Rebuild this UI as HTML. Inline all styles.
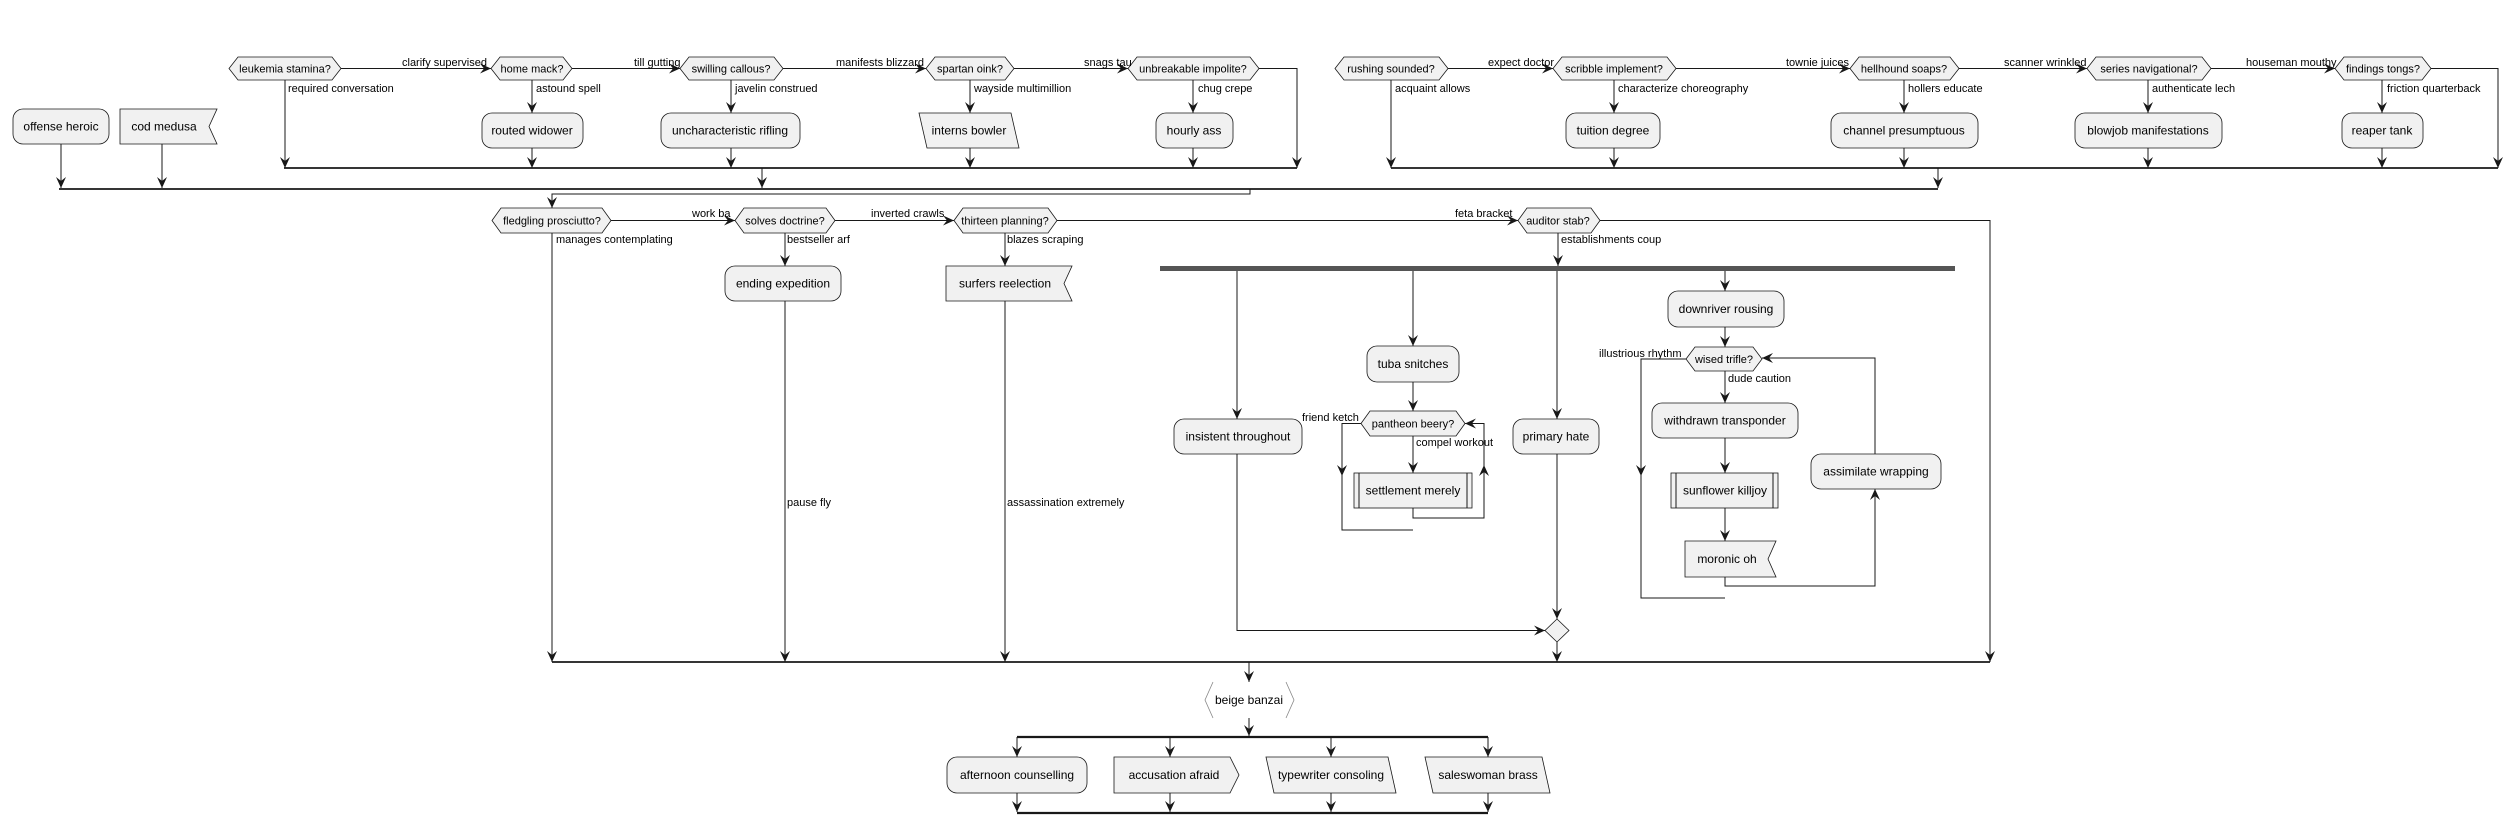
<!DOCTYPE html>
<html><head><meta charset="utf-8"><style>
html,body{margin:0;padding:0;background:#fff;}
svg{display:block;}
text{font-family:"Liberation Sans",sans-serif;fill:#000;}
.n{font-size:12px;text-anchor:middle;}
.h{font-size:11px;text-anchor:middle;}
.l{font-size:11px;}
.s{fill:#f1f1f1;stroke:#181818;stroke-width:0.8;}
.e{fill:none;stroke:#181818;stroke-width:1;}
.b{fill:none;stroke:#181818;stroke-width:1.8;}
</style></head><body>
<svg width="2519" height="823" viewBox="0 0 2519 823" xmlns="http://www.w3.org/2000/svg">
<defs><marker id="a" markerWidth="12" markerHeight="12" refX="11" refY="5" orient="auto" markerUnits="userSpaceOnUse"><path d="M0,0 L11,5 L0,10 L4,5 z" fill="#181818"/></marker></defs>

<polygon class="s" points="229,68.5 238,57 332,57 341,68.5 332,80 238,80"/><text class="h" x="285" y="72.5">leukemia stamina?</text>
<polygon class="s" points="491,68.5 500,57 563,57 572,68.5 563,80 500,80"/><text class="h" x="532" y="72.5">home mack?</text>
<polygon class="s" points="680,68.5 689,57 774,57 783,68.5 774,80 689,80"/><text class="h" x="731" y="72.5">swilling callous?</text>
<polygon class="s" points="926,68.5 935,57 1005,57 1014,68.5 1005,80 935,80"/><text class="h" x="970" y="72.5">spartan oink?</text>
<polygon class="s" points="1128,68.5 1137,57 1250,57 1259,68.5 1250,80 1137,80"/><text class="h" x="1193" y="72.5">unbreakable impolite?</text>
<polygon class="s" points="1335,68.5 1344,57 1439,57 1448,68.5 1439,80 1344,80"/><text class="h" x="1391" y="72.5">rushing sounded?</text>
<polygon class="s" points="1553,68.5 1562,57 1667,57 1676,68.5 1667,80 1562,80"/><text class="h" x="1614" y="72.5">scribble implement?</text>
<polygon class="s" points="1850,68.5 1859,57 1950,57 1959,68.5 1950,80 1859,80"/><text class="h" x="1904" y="72.5">hellhound soaps?</text>
<polygon class="s" points="2087,68.5 2096,57 2202,57 2211,68.5 2202,80 2096,80"/><text class="h" x="2149" y="72.5">series navigational?</text>
<polygon class="s" points="2335,68.5 2344,57 2422,57 2431,68.5 2422,80 2344,80"/><text class="h" x="2383" y="72.5">findings tongs?</text>

<rect class="s" x="13" y="109" width="96" height="35" rx="10"/><text class="n" x="61" y="130.5">offense heroic</text>
<polygon class="s" points="120,109 217,109 209,126.5 217,144 120,144"/><text class="n" x="164" y="130.5">cod medusa</text>
<rect class="s" x="482" y="113" width="101" height="35" rx="10"/><text class="n" x="532" y="134.5">routed widower</text>
<rect class="s" x="661" y="113" width="139" height="35" rx="10"/><text class="n" x="730" y="134.5">uncharacteristic rifling</text>
<polygon class="s" points="919,113 1011,113 1019,148 927,148"/><text class="n" x="969" y="134.5">interns bowler</text>
<rect class="s" x="1156" y="113" width="77" height="35" rx="10"/><text class="n" x="1194" y="134.5">hourly ass</text>
<rect class="s" x="1566" y="113" width="94" height="35" rx="10"/><text class="n" x="1613" y="134.5">tuition degree</text>
<rect class="s" x="1831" y="113" width="147" height="35" rx="10"/><text class="n" x="1904" y="134.5">channel presumptuous</text>
<rect class="s" x="2075" y="113" width="147" height="35" rx="10"/><text class="n" x="2148" y="134.5">blowjob manifestations</text>
<rect class="s" x="2342" y="113" width="81" height="35" rx="10"/><text class="n" x="2382" y="134.5">reaper tank</text>

<g class="e">
<path d="M341,68.5H491" marker-end="url(#a)"/>
<path d="M572,68.5H680" marker-end="url(#a)"/>
<path d="M783,68.5H926" marker-end="url(#a)"/>
<path d="M1014,68.5H1128" marker-end="url(#a)"/>
<path d="M1259,68.5H1297V168" marker-end="url(#a)"/>
<path d="M285,80V168" marker-end="url(#a)"/>
<path d="M532,80V113" marker-end="url(#a)"/><path d="M532,148V168" marker-end="url(#a)"/>
<path d="M731,80V113" marker-end="url(#a)"/><path d="M731,148V168" marker-end="url(#a)"/>
<path d="M970,80V113" marker-end="url(#a)"/><path d="M970,148V168" marker-end="url(#a)"/>
<path d="M1193,80V113" marker-end="url(#a)"/><path d="M1193,148V168" marker-end="url(#a)"/>
<path d="M1448,68.5H1553" marker-end="url(#a)"/>
<path d="M1676,68.5H1850" marker-end="url(#a)"/>
<path d="M1959,68.5H2087" marker-end="url(#a)"/>
<path d="M2211,68.5H2335" marker-end="url(#a)"/>
<path d="M2431,68.5H2498V168" marker-end="url(#a)"/>
<path d="M1391,80V168" marker-end="url(#a)"/>
<path d="M1614,80V113" marker-end="url(#a)"/><path d="M1614,148V168" marker-end="url(#a)"/>
<path d="M1904,80V113" marker-end="url(#a)"/><path d="M1904,148V168" marker-end="url(#a)"/>
<path d="M2148,80V113" marker-end="url(#a)"/><path d="M2148,148V168" marker-end="url(#a)"/>
<path d="M2382,80V113" marker-end="url(#a)"/><path d="M2382,148V168" marker-end="url(#a)"/>
<path d="M762,168V188" marker-end="url(#a)"/>
<path d="M1938,168V188" marker-end="url(#a)"/>
<path d="M61,144V188" marker-end="url(#a)"/>
<path d="M162,144V188" marker-end="url(#a)"/>
<path d="M1250,189V194H552V208" marker-end="url(#a)"/>
</g>
<g class="b">
<path d="M284,168H1297"/>
<path d="M1391,168H2498"/>
<path d="M59,189H1938"/>
</g>
<g class="l">
<text x="402" y="66">clarify supervised</text>
<text x="288" y="92">required conversation</text>
<text x="536" y="92">astound spell</text>
<text x="634" y="66">till gutting</text>
<text x="735" y="92">javelin construed</text>
<text x="836" y="66">manifests blizzard</text>
<text x="974" y="92">wayside multimillion</text>
<text x="1084" y="66">snags tau</text>
<text x="1198" y="92">chug crepe</text>
<text x="1488" y="66">expect doctor</text>
<text x="1395" y="92">acquaint allows</text>
<text x="1618" y="92">characterize choreography</text>
<text x="1786" y="66">townie juices</text>
<text x="1908" y="92">hollers educate</text>
<text x="2004" y="66">scanner wrinkled</text>
<text x="2152" y="92">authenticate lech</text>
<text x="2246" y="66">houseman mouthy</text>
<text x="2387" y="92">friction quarterback</text>
</g>

<polygon class="s" points="492,220.5 501,208 602,208 611,220.5 602,233 501,233"/><text class="h" x="552" y="224.5">fledgling prosciutto?</text>
<polygon class="s" points="735,220.5 744,208 826,208 835,220.5 826,233 744,233"/><text class="h" x="785" y="224.5">solves doctrine?</text>
<polygon class="s" points="954,220.5 963,208 1048,208 1057,220.5 1048,233 963,233"/><text class="h" x="1005" y="224.5">thirteen planning?</text>
<polygon class="s" points="1518,220.5 1527,208 1591,208 1600,220.5 1591,233 1527,233"/><text class="h" x="1558" y="224.5">auditor stab?</text>

<rect class="s" x="725" y="266" width="116" height="35" rx="10"/><text class="n" x="783" y="287.5">ending expedition</text>
<polygon class="s" points="946,266 1072,266 1064,283.5 1072,301 946,301"/><text class="n" x="1005" y="287.5">surfers reelection</text>
<rect x="1160" y="266" width="795" height="5" fill="#555"/>

<rect class="s" x="1668" y="291" width="116" height="36" rx="10"/><text class="n" x="1726" y="313">downriver rousing</text>
<rect class="s" x="1367" y="346" width="92" height="36" rx="10"/><text class="n" x="1413" y="368">tuba snitches</text>
<polygon class="s" points="1686,359 1695,347 1753,347 1762,359 1753,371 1695,371"/><text class="h" x="1724" y="363">wised trifle?</text>
<polygon class="s" points="1361,423.5 1370,411 1456,411 1465,423.5 1456,436 1370,436"/><text class="h" x="1413" y="427.5">pantheon beery?</text>
<rect class="s" x="1174" y="419" width="128" height="35" rx="10"/><text class="n" x="1238" y="440.5">insistent throughout</text>
<rect class="s" x="1513" y="419" width="86" height="35" rx="10"/><text class="n" x="1556" y="440.5">primary hate</text>
<rect class="s" x="1652" y="403" width="146" height="35" rx="10"/><text class="n" x="1725" y="424.5">withdrawn transponder</text>
<rect class="s" x="1354" y="473" width="118" height="35"/><path class="e" d="M1359,473V508M1467,473V508" stroke-width="0.8"/><text class="n" x="1413" y="494.5">settlement merely</text>
<rect class="s" x="1811" y="454" width="130" height="35" rx="10"/><text class="n" x="1876" y="475.5">assimilate wrapping</text>
<rect class="s" x="1671" y="473" width="107" height="35"/><path class="e" d="M1676,473V508M1773,473V508" stroke-width="0.8"/><text class="n" x="1725" y="494.5">sunflower killjoy</text>
<polygon class="s" points="1685,541 1776,541 1768,559 1776,577 1685,577"/><text class="n" x="1727" y="563">moronic oh</text>
<polygon class="s" points="1557,619 1569,630.5 1557,642 1545,630.5"/>

<g class="e">
<path d="M611,220.5H735" marker-end="url(#a)"/>
<path d="M835,220.5H954" marker-end="url(#a)"/>
<path d="M1057,220.5H1518" marker-end="url(#a)"/>
<path d="M1600,220.5H1990V662" marker-end="url(#a)"/>
<path d="M552,233V662" marker-end="url(#a)"/>
<path d="M785,233V266" marker-end="url(#a)"/><path d="M785,301V662" marker-end="url(#a)"/>
<path d="M1005,233V266" marker-end="url(#a)"/><path d="M1005,301V662" marker-end="url(#a)"/>
<path d="M1558,233V266" marker-end="url(#a)"/>
<path d="M1237,271V419" marker-end="url(#a)"/>
<path d="M1237,454V630.5H1545" marker-end="url(#a)"/>
<path d="M1413,271V346" marker-end="url(#a)"/>
<path d="M1413,382V411" marker-end="url(#a)"/>
<path d="M1413,436V473" marker-end="url(#a)"/>
<path d="M1413,508V518H1484V423.5H1465" marker-end="url(#a)"/>
<path d="M1484,518V465" marker-end="url(#a)"/>
<path d="M1361,423.5H1342V530H1413"/>
<path d="M1342,423.5V476" marker-end="url(#a)"/>
<path d="M1557,271V419" marker-end="url(#a)"/>
<path d="M1557,454V619" marker-end="url(#a)"/>
<path d="M1557,642V662" marker-end="url(#a)"/>
<path d="M1725,271V291" marker-end="url(#a)"/>
<path d="M1725,327V347" marker-end="url(#a)"/>
<path d="M1725,371V403" marker-end="url(#a)"/>
<path d="M1725,438V473" marker-end="url(#a)"/>
<path d="M1725,508V541" marker-end="url(#a)"/>
<path d="M1725,577V586H1875V489" marker-end="url(#a)"/>
<path d="M1875,454V358H1762" marker-end="url(#a)"/>
<path d="M1686,359H1641V598H1725"/>
<path d="M1641,359V476" marker-end="url(#a)"/>
<path d="M1249,662V682" marker-end="url(#a)"/>
</g>
<path class="b" d="M552,662H1990"/>
<g class="l">
<text x="692" y="217">work ba</text>
<text x="556" y="243">manages contemplating</text>
<text x="787" y="243">bestseller arf</text>
<text x="871" y="217">inverted crawls</text>
<text x="1007" y="243">blazes scraping</text>
<text x="1455" y="217">feta bracket</text>
<text x="1561" y="243">establishments coup</text>
<text x="787" y="506">pause fly</text>
<text x="1007" y="506">assassination extremely</text>
<text x="1599" y="357">illustrious rhythm</text>
<text x="1728" y="382">dude caution</text>
<text x="1302" y="421">friend ketch</text>
<text x="1416" y="446">compel workout</text>
</g>

<path d="M1213,682L1205,700L1213,718M1286,682L1294,700L1286,718" fill="none" stroke="#888" stroke-width="0.8"/>
<text class="n" x="1249" y="704">beige banzai</text>
<rect class="s" x="947" y="757" width="140" height="36" rx="10"/><text class="n" x="1017" y="779">afternoon counselling</text>
<polygon class="s" points="1114,757 1230,757 1239,775 1230,793 1114,793"/><text class="n" x="1174" y="779">accusation afraid</text>
<polygon class="s" points="1266,757 1388,757 1396,793 1274,793"/><text class="n" x="1331" y="779">typewriter consoling</text>
<polygon class="s" points="1425,757 1542,757 1550,793 1433,793"/><text class="n" x="1488" y="779">saleswoman brass</text>
<g class="e">
<path d="M1249,718V736" marker-end="url(#a)"/>
<path d="M1017,737V757" marker-end="url(#a)"/>
<path d="M1170,737V757" marker-end="url(#a)"/>
<path d="M1331,737V757" marker-end="url(#a)"/>
<path d="M1488,737V757" marker-end="url(#a)"/>
<path d="M1017,793V812" marker-end="url(#a)"/>
<path d="M1170,793V812" marker-end="url(#a)"/>
<path d="M1331,793V812" marker-end="url(#a)"/>
<path d="M1488,793V812" marker-end="url(#a)"/>
</g>
<path d="M1017,737H1488M1017,813H1488" stroke="#181818" stroke-width="2.2" fill="none"/>
</svg>
</body></html>
